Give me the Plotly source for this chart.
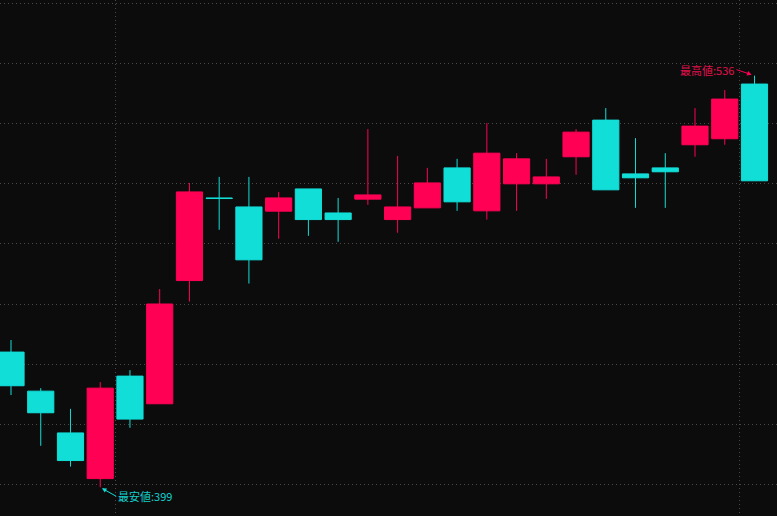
import plotly.graph_objects as go

# OHLC data (26 sessions)
idx = list(range(26))
opens  = [444.0, 431.0, 417.1, 401.9, 436.0, 426.8, 467.8, 495.3, 492.3, 490.9,
          498.3, 490.3, 494.9, 488.1, 492.0, 505.3, 491.0, 500.0, 500.0, 509.0,
          521.2, 503.3, 505.3, 513.0, 515.0, 533.2]
highs  = [448.0, 432.0, 425.1, 434.0, 438.0, 465.0, 500.3, 502.3, 502.3, 497.3,
          498.3, 495.3, 518.2, 509.3, 505.3, 508.3, 520.2, 510.2, 508.3, 518.2,
          525.2, 515.2, 510.2, 525.2, 531.2, 536.0]
lows   = [429.7, 412.8, 405.9, 399.0, 418.8, 426.8, 460.8, 484.7, 466.8, 481.7,
          482.7, 480.7, 493.0, 483.7, 492.0, 491.0, 488.1, 491.0, 495.0, 503.0,
          498.0, 492.0, 492.0, 509.0, 513.0, 501.0]
closes = [432.8, 423.8, 407.9, 432.0, 421.7, 460.0, 497.3, 495.1, 474.7, 495.3,
          488.1, 488.1, 496.3, 492.3, 500.3, 494.0, 510.2, 508.3, 502.3, 517.2,
          498.0, 502.0, 504.0, 519.2, 528.2, 501.0]

y_ticks = [400, 420, 440, 460, 480, 500, 520, 540, 560]
period_breaks = [3.5, 24.5]

low_label = "最安値:399"
high_label = "最高値:536"

RED = "#FF0055"
CYAN = "#12DED8"
BG = "#0C0C0C"
GRID = "#4A4A4A"

fig = go.Figure(go.Candlestick(
    x=idx, open=opens, high=highs, low=lows, close=closes,
    increasing=dict(line=dict(color=RED, width=1), fillcolor=RED),
    decreasing=dict(line=dict(color=CYAN, width=1), fillcolor=CYAN),
    whiskerwidth=0,
))

low_i = lows.index(min(lows))
high_i = highs.index(max(highs))

fig.add_annotation(x=low_i, y=lows[low_i], text=low_label, showarrow=True,
                   axref="pixel", ayref="pixel", ax=16, ay=9,
                   xanchor="left", yanchor="middle",
                   arrowhead=2, arrowsize=0.9, arrowwidth=1, arrowcolor=CYAN,
                   standoff=2, font=dict(color="#13CFCB", size=11,
                                         family="Noto Sans CJK JP"))
fig.add_annotation(x=high_i, y=highs[high_i], text=high_label, showarrow=True,
                   axref="pixel", ayref="pixel", ax=-18, ay=-6,
                   xanchor="right", yanchor="middle",
                   arrowhead=2, arrowsize=0.9, arrowwidth=1, arrowcolor=RED,
                   standoff=3, font=dict(color="#E0104D", size=11,
                                         family="Noto Sans CJK JP"))

fig.update_layout(
    width=777, height=516,
    margin=dict(l=0, r=0, t=0, b=0, pad=0),
    paper_bgcolor=BG, plot_bgcolor=BG,
    showlegend=False,
    boxgap=0.12, boxgroupgap=0,
    xaxis=dict(range=[-0.37, 25.757], rangeslider=dict(visible=False),
               tickvals=period_breaks, showticklabels=False, ticks="",
               showgrid=True, gridcolor=GRID, griddash="1px,3px", gridwidth=1,
               zeroline=False, showline=False),
    yaxis=dict(range=[389.45, 561.17], tickvals=y_ticks, showticklabels=False,
               ticks="", showgrid=True, gridcolor=GRID, griddash="1px,3px",
               gridwidth=1, zeroline=False, showline=False),
)

fig.write_html("out.html",
               config={"displayModeBar": False},
               post_script="document.body.style.margin='0';"
                           "document.body.style.background='#0C0C0C';")
